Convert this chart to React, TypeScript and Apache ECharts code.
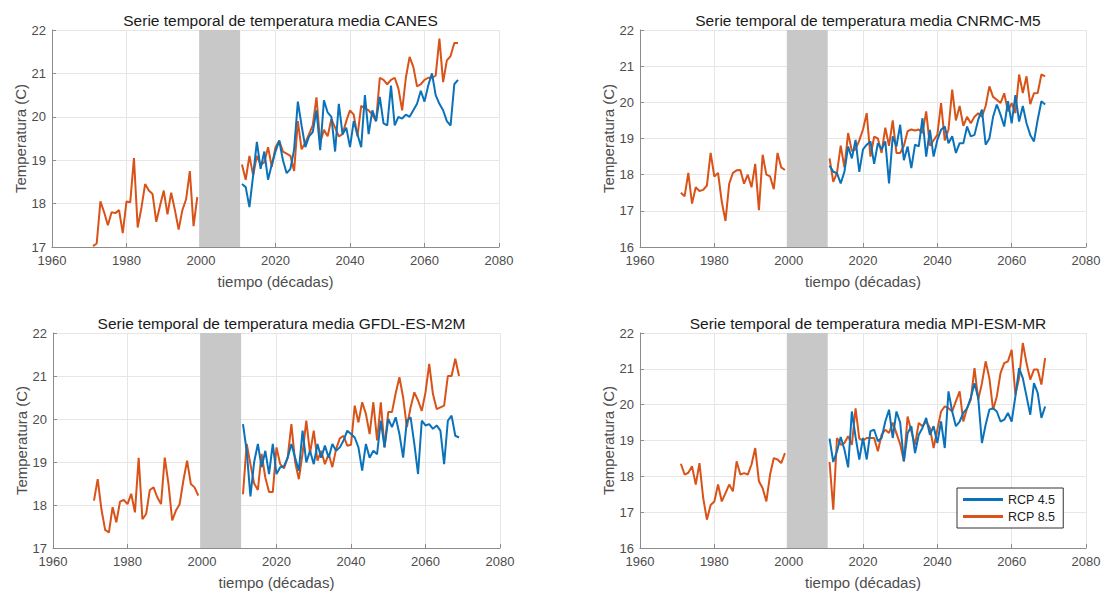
import React, { useEffect, useRef } from "react";
import * as echarts from "echarts";

const titles = [
  "Serie temporal de temperatura media CANES",
  "Serie temporal de temperatura media CNRMC-M5",
  "Serie temporal de temperatura media GFDL-ES-M2M",
  "Serie temporal de temperatura media MPI-ESM-MR",
];
const yMins = [17, 16, 17, 16];
const yMax = 22;
const xMin = 1960;
const xMax = 2080;
const xStep = 20;
const histStart = 1971;
const futStart = 2011;
const bandFrom = 1999.5;
const bandTo = 2010.5;
const xName = "tiempo (décadas)";
const yName = "Temperatura (C)";
const legendNames = ["RCP 4.5", "RCP 8.5"];

// Historical (orange) 1971-1999
const histCANES = [17.02, 17.08, 18.05, 17.8, 17.5, 17.8, 17.78, 17.85, 17.32, 18.05, 18.03, 19.05, 17.45, 17.9, 18.45, 18.3, 18.22, 17.58, 17.95, 18.3, 17.75, 18.25, 17.85, 17.4, 17.85, 18.1, 18.75, 17.48, 18.15];
const histCNRM = [17.5, 17.4, 18.05, 17.2, 17.65, 17.55, 17.58, 17.7, 18.6, 17.95, 18.05, 17.25, 16.72, 17.75, 18.05, 18.12, 18.13, 17.75, 18.0, 17.65, 18.3, 17.02, 18.55, 18.0, 17.95, 17.6, 18.6, 18.2, 18.13];
const histGFDL = [18.1, 18.6, 17.9, 17.42, 17.36, 17.95, 17.6, 18.08, 18.12, 18.02, 18.26, 17.83, 19.1, 17.67, 17.79, 18.35, 18.41, 18.18, 18.02, 19.1, 18.49, 17.64, 17.87, 18.02, 18.57, 19.03, 18.49, 18.41, 18.22];
const histMPI = [18.35, 18.05, 18.1, 18.28, 17.77, 18.37, 17.4, 16.79, 17.2, 17.3, 17.77, 17.3, 17.53, 17.77, 17.58, 18.42, 18.05, 18.09, 18.05, 18.33, 18.79, 17.86, 17.67, 17.3, 18.05, 18.51, 18.47, 18.37, 18.65];

// RCP 4.5 (blue) 2011-2069
const rcp45CANES = [18.45, 18.38, 17.92, 18.65, 19.42, 18.8, 19.2, 18.55, 18.9, 19.2, 19.45, 19.0, 18.7, 18.8, 19.25, 20.35, 19.8, 19.3, 19.55, 19.65, 20.15, 19.23, 20.38, 20.1, 20.0, 19.2, 20.3, 19.6, 19.75, 19.3, 19.9, 19.6, 19.3, 20.5, 19.6, 20.15, 19.9, 20.46, 19.85, 19.8, 20.72, 19.8, 20.0, 19.96, 20.05, 20.0, 20.15, 20.3, 20.6, 20.35, 20.72, 21.0, 20.5, 20.3, 20.15, 19.9, 19.8, 20.75, 20.85];
const rcp45CNRM = [18.25, 18.08, 18.04, 17.76, 18.08, 18.78, 18.45, 18.96, 18.08, 18.7, 18.83, 18.92, 18.3, 18.87, 18.7, 18.92, 17.76, 19.06, 18.78, 19.38, 18.4, 18.78, 18.18, 18.83, 18.78, 19.56, 18.5, 19.24, 18.5, 18.96, 19.24, 19.33, 18.87, 19.06, 18.6, 18.87, 18.87, 19.33, 19.06, 19.1, 19.52, 19.8, 18.83, 19.0, 19.6, 19.94, 19.66, 19.33, 20.03, 19.42, 20.2, 19.47, 19.9, 19.42, 19.1, 18.92, 19.52, 20.03, 19.94];
const rcp45GFDL = [19.88, 19.26, 18.2, 19.0, 19.42, 18.88, 19.26, 18.72, 19.42, 18.72, 18.88, 18.9, 19.1, 19.42, 19.1, 18.8, 19.73, 18.99, 19.26, 18.95, 19.42, 19.1, 19.38, 19.1, 19.42, 19.26, 19.34, 19.5, 19.73, 19.65, 19.57, 19.34, 18.8, 19.42, 19.1, 19.26, 19.18, 19.96, 19.34, 20.0, 19.81, 20.04, 19.65, 19.1, 19.96, 20.04, 19.42, 18.72, 19.96, 19.85, 19.88, 19.77, 19.85, 19.73, 18.95, 19.96, 20.08, 19.61, 19.57];
const rcp45MPI = [19.05, 18.4, 18.7, 19.1, 18.75, 18.25, 19.81, 19.1, 18.47, 19.07, 18.47, 19.26, 19.3, 18.98, 19.07, 19.53, 19.86, 19.07, 19.81, 19.5, 18.42, 19.2, 19.4, 18.65, 19.16, 19.35, 19.63, 19.16, 19.4, 18.93, 19.53, 18.79, 20.37, 19.81, 19.4, 19.53, 19.77, 19.9, 20.19, 20.6, 20.19, 18.93, 19.44, 19.86, 19.9, 19.81, 19.53, 19.58, 19.77, 19.53, 20.23, 21.02, 20.74, 20.23, 19.72, 20.6, 20.33, 19.63, 19.95];

// RCP 8.5 (orange) 2011-2069
const rcp85CANES = [18.9, 18.55, 19.1, 18.65, 19.1, 18.9, 18.95, 19.3, 18.85, 19.3, 19.45, 19.2, 19.15, 19.1, 18.75, 19.9, 19.25, 19.4, 19.6, 19.8, 20.45, 19.4, 19.7, 19.55, 19.95, 19.75, 19.55, 19.6, 19.9, 20.15, 20.05, 19.55, 20.25, 20.2, 20.15, 20.05, 19.9, 20.9, 20.85, 20.75, 20.85, 20.9, 20.65, 20.15, 20.9, 21.38, 21.15, 20.7, 20.75, 20.85, 20.9, 20.9, 20.95, 21.8, 20.8, 21.3, 21.4, 21.7, 21.7];
const rcp85CNRM = [18.45, 17.8, 18.05, 18.8, 18.2, 19.15, 18.65, 18.7, 18.95, 19.25, 19.7, 18.5, 19.05, 19.0, 18.6, 19.3, 18.8, 19.5, 18.6, 18.6, 18.8, 19.2, 19.25, 19.22, 19.25, 19.15, 19.75, 18.8, 18.95, 19.1, 19.98, 18.95, 19.25, 20.35, 19.5, 19.9, 19.35, 19.6, 19.42, 19.6, 19.7, 19.6, 19.9, 20.44, 20.15, 20.07, 19.98, 20.25, 19.75, 19.98, 19.7, 20.77, 20.26, 20.72, 19.95, 20.25, 20.26, 20.77, 20.72];
const rcp85GFDL = [18.25, 19.42, 18.95, 18.5, 18.35, 19.19, 18.64, 18.3, 18.3, 19.34, 18.95, 18.85, 19.1, 19.88, 19.0, 18.6, 19.2, 19.96, 19.2, 19.73, 19.03, 19.26, 18.95, 19.19, 18.88, 19.3, 19.55, 19.61, 19.38, 19.4, 20.31, 19.92, 20.39, 20.12, 19.65, 20.39, 19.5, 20.39, 19.34, 20.16, 20.16, 20.6, 20.97, 20.5, 19.81, 20.27, 20.62, 20.43, 20.19, 20.62, 21.28, 20.58, 20.23, 20.27, 20.31, 21.0, 21.0, 21.4, 21.0];
const rcp85MPI = [18.4, 17.07, 19.07, 18.88, 18.93, 19.12, 18.88, 19.9, 19.05, 19.0, 19.07, 19.07, 19.07, 18.7, 19.16, 19.3, 19.21, 19.5, 19.2, 18.9, 18.42, 19.67, 19.26, 18.88, 19.49, 19.4, 19.53, 19.35, 18.79, 19.3, 19.81, 19.95, 19.9, 19.81, 20.1, 20.37, 19.53, 19.9, 20.14, 21.02, 20.14, 20.6, 21.21, 20.74, 19.86, 20.23, 20.88, 21.16, 21.21, 21.53, 20.28, 20.74, 21.72, 21.16, 20.7, 20.98, 20.98, 20.56, 21.3];

const hist = [histCANES, histCNRM, histGFDL, histMPI];
const rcp45 = [rcp45CANES, rcp45CNRM, rcp45GFDL, rcp45MPI];
const rcp85 = [rcp85CANES, rcp85CNRM, rcp85GFDL, rcp85MPI];

const BLUE = "#0A72BA";
const ORANGE = "#D95319";
const FONT = "Liberation Sans, Arial, sans-serif";

const grids = [
  { left: 52, top: 30, width: 447, height: 217 },
  { left: 640, top: 30, width: 446, height: 217 },
  { left: 53, top: 333, width: 447, height: 215 },
  { left: 640, top: 333, width: 446, height: 215 },
];

const toPairs = (start: number, vals: number[]) => vals.map((v, i) => [start + i, v]);

export default function App() {
  const ref = useRef<HTMLDivElement>(null);
  useEffect(() => {
    document.body.style.margin = "0";
    const chart = echarts.init(ref.current!, null, { renderer: "svg" });
    const series: any[] = [];
    for (let k = 0; k < 4; k++) {
      series.push({
        type: "line",
        name: legendNames[0],
        xAxisIndex: k,
        yAxisIndex: k,
        data: toPairs(futStart, rcp45[k]),
        symbol: "none",
        lineStyle: { color: BLUE, width: 2 },
        itemStyle: { color: BLUE },
        z: 3,
        markArea: {
          silent: true,
          itemStyle: { color: "#c8c8c8" },
          data: [[{ xAxis: bandFrom }, { xAxis: bandTo }]],
        },
      });
      series.push({
        type: "line",
        name: legendNames[1],
        xAxisIndex: k,
        yAxisIndex: k,
        data: toPairs(futStart, rcp85[k]),
        symbol: "none",
        lineStyle: { color: ORANGE, width: 2 },
        itemStyle: { color: ORANGE },
        z: 2,
      });
      series.push({
        type: "line",
        name: legendNames[1],
        xAxisIndex: k,
        yAxisIndex: k,
        data: toPairs(histStart, hist[k]),
        symbol: "none",
        lineStyle: { color: ORANGE, width: 2 },
        itemStyle: { color: ORANGE },
        z: 2,
      });
    }
    const option: any = {
      animation: false,
      backgroundColor: "#ffffff",
      title: titles.map((t, k) => ({
        text: t,
        left: grids[k].left + grids[k].width / 2,
        top: grids[k].top - 23,
        textAlign: "center",
        textStyle: { fontFamily: FONT, fontSize: 15.5, fontWeight: "normal", color: "#1a1a1a" },
      })),
      legend: {
        data: legendNames,
        left: 957,
        top: 488,
        orient: "vertical",
        backgroundColor: "#ffffff",
        borderColor: "#333333",
        borderWidth: 1,
        borderRadius: 0,
        padding: [5, 8, 5, 6],
        itemGap: 4,
        itemWidth: 40,
        itemHeight: 3,
        icon: "rect",
        textStyle: { fontFamily: FONT, fontSize: 12.5, color: "#222" },
      },
      grid: grids.map((g) => ({ ...g, containLabel: false })),
      xAxis: grids.map((_, k) => ({
        type: "value",
        gridIndex: k,
        min: xMin,
        max: xMax,
        interval: xStep,
        name: xName,
        nameLocation: "middle",
        nameGap: 27,
        nameTextStyle: { fontFamily: FONT, fontSize: 15, color: "#4d4d4d" },
        axisLine: { show: true, onZero: false, lineStyle: { color: "#8c8c8c", width: 1 } },
        axisTick: { show: true, inside: true, length: 4, lineStyle: { color: "#8c8c8c" } },
        axisLabel: {
          fontFamily: FONT,
          fontSize: 13,
          color: "#4d4d4d",
          margin: 7,
          formatter: (v: number) => String(v),
        },
        splitLine: { show: true, lineStyle: { color: "#e6e6e6", width: 1 } },
      })),
      yAxis: grids.map((_, k) => ({
        type: "value",
        gridIndex: k,
        min: yMins[k],
        max: yMax,
        interval: 1,
        name: yName,
        nameLocation: "middle",
        nameGap: 24,
        nameTextStyle: { fontFamily: FONT, fontSize: 15, color: "#4d4d4d" },
        axisLine: { show: true, lineStyle: { color: "#8c8c8c", width: 1 } },
        axisTick: { show: true, inside: true, length: 4, lineStyle: { color: "#8c8c8c" } },
        axisLabel: { fontFamily: FONT, fontSize: 13, color: "#4d4d4d", margin: 6 },
        splitLine: { show: true, lineStyle: { color: "#e6e6e6", width: 1 } },
      })),
      series,
    };
    chart.setOption(option);
    return () => chart.dispose();
  }, []);
  return (
    <div
      ref={ref}
      style={{ position: "absolute", left: 0, top: 0, width: 1105, height: 594 }}
    />
  );
}
